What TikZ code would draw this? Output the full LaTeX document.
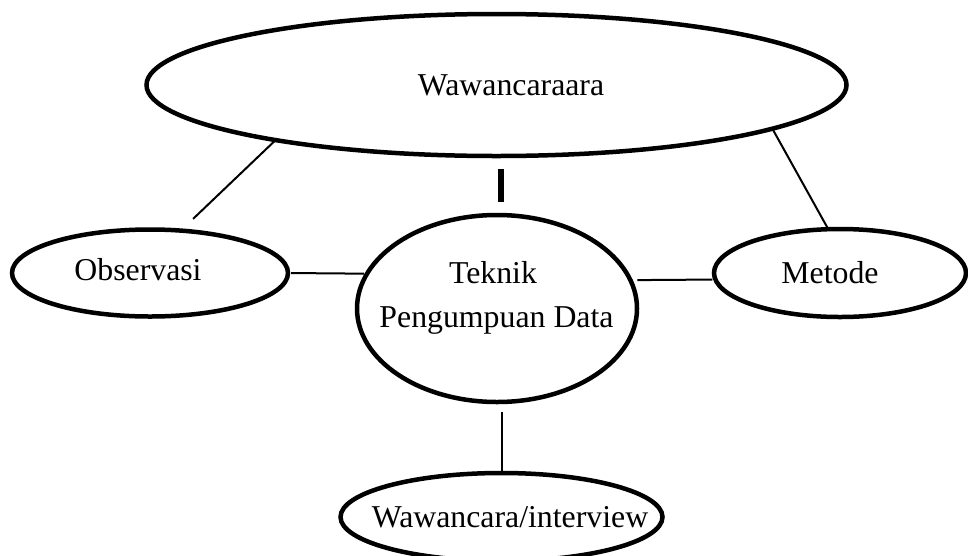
\documentclass[tikz,border=0pt]{standalone}
\usepackage{fontspec}
\setmainfont{Liberation Serif}
\usetikzlibrary{shapes.geometric}
\begin{document}
\begin{tikzpicture}[x=1pt,y=-1pt,
  oval/.style={ellipse, draw, line width=4.5pt, inner sep=0pt, outer sep=0pt},
  txt/.style={font=\fontsize{31.8}{38}\selectfont, anchor=base, inner sep=0pt},
  link/.style={line width=2pt},
  bar/.style={line width=5.5pt}]
\useasboundingbox (0,0) rectangle (968,555);
% ellipses
\node[oval, minimum width=700pt, minimum height=142pt] (top) at (496.5,85) {};
\node[oval, minimum width=276pt, minimum height=87pt] (obs) at (150,273) {};
\node[oval, minimum width=280pt, minimum height=187pt] (tek) at (497,308.5) {};
\node[oval, minimum width=252pt, minimum height=88pt] (met) at (840,273) {};
\node[oval, minimum width=322pt, minimum height=88pt] (wi) at (501.5,517) {};
% texts
\node[txt] (ttop) at (511,95) {Wawancaraara};
\node[txt] (tobs) at (138,280) {Observasi};
\node[txt] (ttek1) at (493,283) {Teknik};
\node[txt] (ttek2) at (496.5,327) {Pengumpuan Data};
\node[txt] (tmet) at (830,283) {Metode};
\node[txt] (twi) at (510,527) {Wawancara/interview};
% connectors
\draw[link, shorten <=3pt, shorten >=3pt] (obs.east) -- (tek.165);
\draw[link, shorten <=7pt, shorten >=3pt] (tek.12) -- (met.183);
\draw[link, shorten >=17pt] (top.194) -- (obs.54);
\draw[link] (top.351.5) -- (met.105);
\draw[bar, shorten <=13pt, shorten >=13pt] ([xshift=4.5pt]top.south) -- ([xshift=4pt]tek.north);
\draw[link, shorten <=10pt] (tek.south -| wi.north) -- (wi.north);
\end{tikzpicture}
\end{document}
